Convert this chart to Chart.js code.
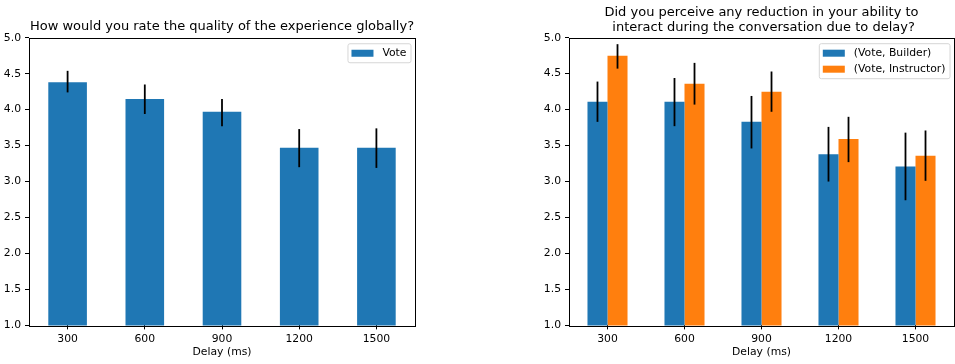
<!DOCTYPE html>
<html>
<head>
<meta charset="utf-8">
<script src="https://cdn.jsdelivr.net/npm/chart.js@4/dist/chart.umd.min.js"></script>
<style>
  html, body { margin:0; padding:0; background:#fff; }
  #fig { position:relative; width:955px; height:364px; background:#fff; }
  #leftChart  { position:absolute; left:0;   top:0; }
  #rightChart { position:absolute; left:520px; top:0; }
</style>
</head>
<body>
<div id="fig">
  <canvas id="leftChart" width="430" height="364"></canvas>
  <canvas id="rightChart" width="435" height="364"></canvas>
</div>
<script>
const DELAYS = ['300','600','900','1200','1500'];
const Y_TICKS = [1.0, 1.5, 2.0, 2.5, 3.0, 3.5, 4.0, 4.5, 5.0];

// left: global quality vote
const voteMean = [4.38, 4.15, 3.97, 3.47, 3.47];
const voteLow  = [4.24, 3.94, 3.77, 3.20, 3.19];
const voteHigh = [4.54, 4.35, 4.15, 3.73, 3.74];

// right: perceived reduction, per role
const builderMean = [4.11, 4.11, 3.83, 3.38, 3.21];
const builderLow  = [3.83, 3.77, 3.46, 3.00, 2.74];
const builderHigh = [4.39, 4.44, 4.19, 3.76, 3.68];
const instructorMean = [4.75, 4.36, 4.25, 3.59, 3.36];
const instructorLow  = [4.57, 4.07, 3.97, 3.27, 3.01];
const instructorHigh = [4.91, 4.65, 4.53, 3.90, 3.71];

const BLUE = '#1f77b4', ORANGE = '#ff7f0e';
const FS = 10.8;

Chart.defaults.font.family = "'DejaVu Sans', sans-serif";
Chart.defaults.font.size = FS;
Chart.defaults.color = '#000';

// vertical error bars, read from dataset.errLow / errHigh
const errorBars = {
  id:'errorBars',
  afterDatasetsDraw(chart) {
    const ctx = chart.ctx, y = chart.scales.y;
    chart.data.datasets.forEach((ds, di) => {
      if (!ds.errLow) return;
      chart.getDatasetMeta(di).data.forEach((bar, i) => {
        ctx.save();
        ctx.strokeStyle = '#000';
        ctx.lineWidth = 1.8;
        ctx.beginPath();
        ctx.moveTo(bar.x, y.getPixelForValue(ds.errLow[i]));
        ctx.lineTo(bar.x, y.getPixelForValue(ds.errHigh[i]));
        ctx.stroke();
        ctx.restore();
      });
    });
  }
};

// full box around the plot area (matplotlib spines)
const frame = {
  id:'frame',
  afterDraw(chart) {
    const a = chart.chartArea, ctx = chart.ctx;
    ctx.save();
    ctx.strokeStyle = '#000';
    ctx.lineWidth = 1;
    ctx.strokeRect(Math.round(a.left)+0.5, Math.round(a.top)+0.5,
                   Math.round(a.right-a.left), Math.round(a.bottom-a.top));
    ctx.restore();
  }
};

// matplotlib style legend in the upper right corner of the axes
const mplLegend = {
  id:'mplLegend',
  afterDraw(chart) {
    const ctx = chart.ctx, a = chart.chartArea;
    const sets = chart.data.datasets;
    ctx.save();
    ctx.font = FS + "px 'DejaVu Sans', sans-serif";
    const tw = Math.max(...sets.map(d => ctx.measureText(d.label).width));
    const w = 4 + 22 + 9 + tw + 4, rowH = 16, h = 3 + sets.length*rowH;
    const x = a.right - 4.5 - w, yTop = a.top + 5.5;
    ctx.fillStyle = 'rgba(255,255,255,0.8)';
    ctx.strokeStyle = '#d6d6d6';
    ctx.lineWidth = 1;
    ctx.beginPath();
    ctx.roundRect(x+0.5, yTop+0.5, w, h, 2);
    ctx.fill(); ctx.stroke();
    sets.forEach((d, i) => {
      const cy = yTop + 10 + i*rowH;
      ctx.fillStyle = d.backgroundColor;
      ctx.fillRect(x + 4, cy - 3.5, 22, 7);
      ctx.fillStyle = '#000';
      ctx.textBaseline = 'middle';
      ctx.fillText(d.label, x + 35, cy);
    });
    ctx.restore();
  }
};

function makeOptions(title, yWidth, padRight) {
  const twoLines = Array.isArray(title);
  return {
    responsive:false, animation:false,
    layout:{ padding:{ left:0, right:padRight, top:0, bottom:0 } },
    plugins:{
      legend:{ display:false },
      tooltip:{ enabled:false },
      title:{ display:true, text:title, fullSize:false, color:'#000',
              font:{ size:13, weight:'normal', lineHeight:1.15 },
              padding:{ top: twoLines ? 5 : 19, bottom: twoLines ? 2.8 : 3.8 } },
    },
    scales:{
      x:{
        grid:{ display:true, drawOnChartArea:false, offset:false, tickLength:4, color:'#000' },
        border:{ display:false },
        ticks:{ padding:3, maxRotation:0, color:'#000' },
        title:{ display:true, text:'Delay (ms)', font:{ size:FS }, padding:{ top:0, bottom:5 } },
        afterFit: s => { s.height = 38.6; },
      },
      y:{
        min:1, max:5,
        afterBuildTicks: s => { s.ticks = Y_TICKS.map(v => ({ value:v })); },
        grid:{ display:true, drawOnChartArea:false, tickLength:4, color:'#000' },
        border:{ display:false },
        ticks:{ padding:4, color:'#000', callback: v => Number(v).toFixed(1) },
        afterFit: s => { s.width = yWidth; },
      },
    },
  };
}

new Chart(document.getElementById('leftChart'), {
  type:'bar',
  data:{
    labels:DELAYS,
    datasets:[
      { label:'Vote', data:voteMean, errLow:voteLow, errHigh:voteHigh,
        backgroundColor:BLUE, borderWidth:0, categoryPercentage:0.5, barPercentage:1 },
    ],
  },
  options: makeOptions('How would you rate the quality of the experience globally?', 29, 15),
  plugins:[errorBars, frame, mplLegend],
});

new Chart(document.getElementById('rightChart'), {
  type:'bar',
  data:{
    labels:DELAYS,
    datasets:[
      { label:'(Vote, Builder)', data:builderMean, errLow:builderLow, errHigh:builderHigh,
        backgroundColor:BLUE, borderWidth:0, categoryPercentage:0.52, barPercentage:1 },
      { label:'(Vote, Instructor)', data:instructorMean, errLow:instructorLow, errHigh:instructorHigh,
        backgroundColor:ORANGE, borderWidth:0, categoryPercentage:0.52, barPercentage:1 },
    ],
  },
  options: makeOptions(['Did you perceive any reduction in your ability to', ' interact during the conversation due to delay?'], 49, 1),
  plugins:[errorBars, frame, mplLegend],
});
</script>
</body>
</html>
